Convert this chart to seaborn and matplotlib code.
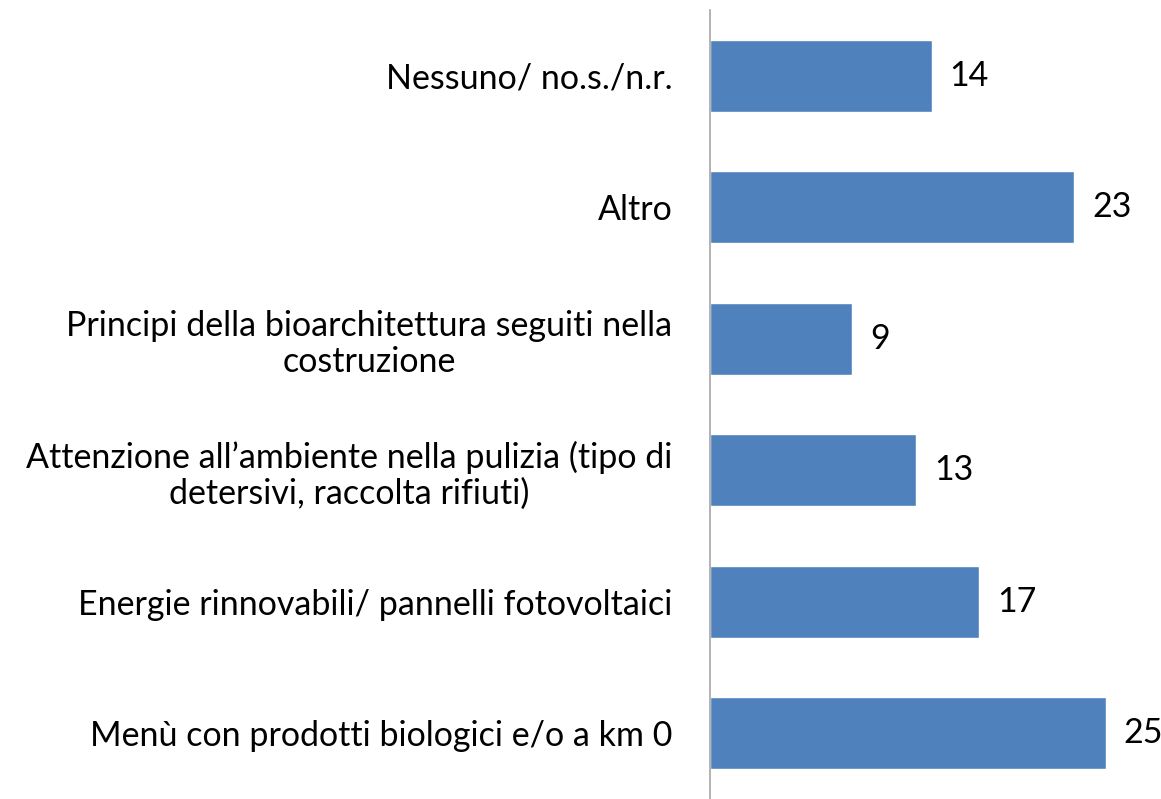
import matplotlib.pyplot as plt
import seaborn as sns
import pandas as pd

categories = [
    "Nessuno/ no.s./n.r.",
    "Altro",
    "Principi della bioarchitettura seguiti nella\ncostruzione",
    "Attenzione all\u2019ambiente nella pulizia (tipo di\ndetersivi, raccolta rifiuti)",
    "Energie rinnovabili/ pannelli fotovoltaici",
    "Men\u00f9 con prodotti biologici e/o a km 0",
]
values = [14, 23, 9, 13, 17, 25]

df = pd.DataFrame({"categoria": categories, "valore": values})

sns.set_style("white")
plt.rcParams["font.family"] = ["Lato", "DejaVu Sans"]

fig = plt.figure(figsize=(11.61, 7.99), dpi=100)
ax = fig.add_axes([710 / 1161, 0.0, 451 / 1161, 789 / 799])

sns.barplot(data=df, x="valore", y="categoria", orient="h", color="#4F81BD",
            saturation=1, width=0.55, ax=ax)

for cont in ax.containers:
    ax.bar_label(cont, padding=13, fontsize=24.5, color="#000000")

ax.set_xlim(0, 28.5)
ax.set_ylim(5.5, -0.5)
ax.set_xlabel("")
ax.set_ylabel("")
ax.set_xticks([])
ax.tick_params(axis="y", length=0, pad=27, labelsize=24.5)
for lab in ax.get_yticklabels():
    lab.set_multialignment("center")
    lab.set_color("#000000")
    lab.set_linespacing(1.15)

for side in ["top", "right", "bottom"]:
    ax.spines[side].set_visible(False)
ax.spines["left"].set_color("#A6A6A6")
ax.spines["left"].set_linewidth(1.2)

fig.savefig("out.png", dpi=100)
plt.close(fig)
